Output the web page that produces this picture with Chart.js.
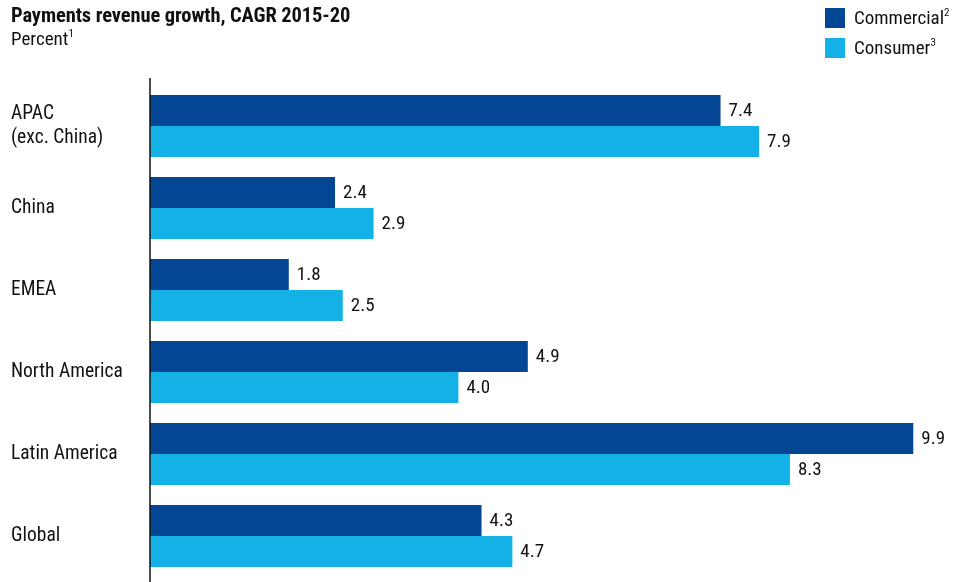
<!DOCTYPE html>
<html>
<head>
<meta charset="utf-8">
<script src="https://cdn.jsdelivr.net/npm/chart.js@4/dist/chart.umd.min.js"></script>
<style>
  html, body { margin: 0; padding: 0; background: #fff; }
  body { width: 955px; height: 582px; position: relative; overflow: hidden;
         font-family: 'Liberation Sans Narrow', 'Roboto Condensed', 'DejaVu Sans Condensed', 'Liberation Sans', sans-serif;
         color: #111; }
  #wrap { position: absolute; left: 0; top: 0; width: 955px; height: 582px; }
  .title { position: absolute; left: 11px; top: 3px; font-size: 20.5px; font-weight: bold; letter-spacing: -0.1px; }
  .sub { position: absolute; left: 11px; top: 27px; font-size: 19px; }
  .leg { position: absolute; left: 825px; font-size: 19px; line-height: 20px; }
  .leg i { display: inline-block; width: 20px; height: 20px; margin-right: 9px; vertical-align: top; }
  sup { font-size: 11px; position: relative; top: -8px; vertical-align: baseline; line-height: 0; }
</style>
</head>
<body>
<div id="wrap"><canvas id="c" width="955" height="582"></canvas></div>
<div class="title">Payments revenue growth, CAGR 2015-20</div>
<div class="sub">Percent<sup>1</sup></div>
<div class="leg" style="top:8px"><i style="background:#034694"></i>Commercial<sup>2</sup></div>
<div class="leg" style="top:38px"><i style="background:#14b1e6"></i>Consumer<sup>3</sup></div>
<script>
// Regiones y crecimiento CAGR 2015-20 (%)
const categories = [['APAC', '(exc. China)'], 'China', 'EMEA', 'North America', 'Latin America', 'Global'];
const commercial = [7.4, 2.4, 1.8, 4.9, 9.9, 4.3];
const consumer   = [7.9, 2.9, 2.5, 4.0, 8.3, 4.7];

const FONT = "'Liberation Sans Narrow', 'Roboto Condensed', 'DejaVu Sans Condensed', 'Liberation Sans', sans-serif";
const DARK = '#034694', LIGHT = '#14b1e6';

// etiquetas de valor a la derecha de cada barra + eje vertical
const valueLabels = {
  id: 'valueLabels',
  afterDatasetsDraw(chart) {
    const ctx = chart.ctx;
    ctx.save();
    ctx.font = '19px ' + FONT;
    ctx.fillStyle = '#111';
    ctx.textBaseline = 'middle';
    ctx.textAlign = 'left';
    chart.data.datasets.forEach((ds, i) => {
      chart.getDatasetMeta(i).data.forEach((bar, j) => {
        ctx.fillText(ds.data[j].toFixed(1), bar.x + 8, bar.y + 1);
      });
    });
    const x0 = chart.scales.x.getPixelForValue(0);
    ctx.strokeStyle = '#111';
    ctx.lineWidth = 1.5;
    ctx.beginPath();
    ctx.moveTo(x0, 78);
    ctx.lineTo(x0, chart.height);
    ctx.stroke();
    ctx.restore();
  },
};

new Chart(document.getElementById('c').getContext('2d'), {
  type: 'bar',
  data: {
    labels: categories,
    datasets: [
      { label: 'Commercial', data: commercial, backgroundColor: DARK },
      { label: 'Consumer', data: consumer, backgroundColor: LIGHT },
    ],
  },
  options: {
    indexAxis: 'y',
    responsive: false,
    animation: false,
    barPercentage: 1,
    categoryPercentage: 0.756,
    layout: { autoPadding: false, padding: { top: 85, bottom: 5, left: 11, right: 34 } },
    plugins: { legend: { display: false }, tooltip: { enabled: false } },
    scales: {
      x: { display: false, min: 0, max: 10 },
      y: {
        grid: { display: false },
        border: { display: false },
        afterFit: (s) => { s.width = 139; s.paddingTop = 0; s.paddingBottom = 0; },
        ticks: { color: '#111', crossAlign: 'far', padding: 0, font: { family: FONT, size: 19.5 } },
      },
    },
  },
  plugins: [valueLabels],
});
</script>
</body>
</html>
